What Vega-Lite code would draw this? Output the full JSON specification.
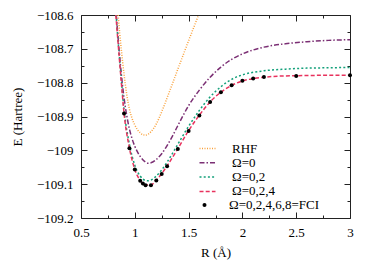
{
  "$schema": "https://vega.github.io/schema/vega-lite/v6.json",
  "width": 269,
  "height": 203,
  "autosize": {"type": "none"},
  "padding": {"left": 81, "top": 15, "right": 24, "bottom": 43},
  "background": "white",
  "config": {
    "font": "Liberation Serif",
    "view": {"stroke": "#222", "strokeWidth": 1},
    "axis": {
      "labelFont": "Liberation Serif", "labelFontSize": 13, "labelColor": "#000",
      "titleFont": "Liberation Serif", "titleFontSize": 13, "titleFontWeight": "normal", "titleColor": "#000",
      "grid": false, "domain": false, "tickColor": "#222", "tickWidth": 1,
      "labelFlush": false, "labelOverlap": false
    },
    "legend": {
      "labelFont": "Liberation Serif", "labelFontSize": 13, "labelColor": "#000",
      "symbolStrokeWidth": 1.5
    }
  },
  "data": {"values": [
    {"series": "RHF", "R": 0.845, "E": -108.6},
    {"series": "RHF", "R": 0.86, "E": -108.655},
    {"series": "RHF", "R": 0.875, "E": -108.703},
    {"series": "RHF", "R": 0.9, "E": -108.775},
    {"series": "RHF", "R": 0.925, "E": -108.835},
    {"series": "RHF", "R": 0.95, "E": -108.878},
    {"series": "RHF", "R": 0.975, "E": -108.906},
    {"series": "RHF", "R": 1.0, "E": -108.925},
    {"series": "RHF", "R": 1.025, "E": -108.939},
    {"series": "RHF", "R": 1.05, "E": -108.948},
    {"series": "RHF", "R": 1.075, "E": -108.954},
    {"series": "RHF", "R": 1.1, "E": -108.955},
    {"series": "RHF", "R": 1.125, "E": -108.952},
    {"series": "RHF", "R": 1.15, "E": -108.945},
    {"series": "RHF", "R": 1.175, "E": -108.935},
    {"series": "RHF", "R": 1.2, "E": -108.922},
    {"series": "RHF", "R": 1.225, "E": -108.905},
    {"series": "RHF", "R": 1.25, "E": -108.886},
    {"series": "RHF", "R": 1.275, "E": -108.866},
    {"series": "RHF", "R": 1.3, "E": -108.845},
    {"series": "RHF", "R": 1.35, "E": -108.803},
    {"series": "RHF", "R": 1.4, "E": -108.76},
    {"series": "RHF", "R": 1.45, "E": -108.718},
    {"series": "RHF", "R": 1.5, "E": -108.676},
    {"series": "RHF", "R": 1.55, "E": -108.635},
    {"series": "RHF", "R": 1.59, "E": -108.602},

    {"series": "Ω=0", "R": 0.828, "E": -108.6},
    {"series": "Ω=0", "R": 0.85, "E": -108.688},
    {"series": "Ω=0", "R": 0.875, "E": -108.775},
    {"series": "Ω=0", "R": 0.9, "E": -108.845},
    {"series": "Ω=0", "R": 0.925, "E": -108.897},
    {"series": "Ω=0", "R": 0.95, "E": -108.937},
    {"series": "Ω=0", "R": 0.975, "E": -108.966},
    {"series": "Ω=0", "R": 1.0, "E": -108.988},
    {"series": "Ω=0", "R": 1.05, "E": -109.018},
    {"series": "Ω=0", "R": 1.1, "E": -109.035},
    {"series": "Ω=0", "R": 1.125, "E": -109.038},
    {"series": "Ω=0", "R": 1.15, "E": -109.037},
    {"series": "Ω=0", "R": 1.2, "E": -109.027},
    {"series": "Ω=0", "R": 1.25, "E": -109.01},
    {"series": "Ω=0", "R": 1.3, "E": -108.986},
    {"series": "Ω=0", "R": 1.35, "E": -108.958},
    {"series": "Ω=0", "R": 1.4, "E": -108.927},
    {"series": "Ω=0", "R": 1.5, "E": -108.868},
    {"series": "Ω=0", "R": 1.6, "E": -108.822},
    {"series": "Ω=0", "R": 1.7, "E": -108.784},
    {"series": "Ω=0", "R": 1.8, "E": -108.754},
    {"series": "Ω=0", "R": 1.9, "E": -108.731},
    {"series": "Ω=0", "R": 2.0, "E": -108.715},
    {"series": "Ω=0", "R": 2.2, "E": -108.695},
    {"series": "Ω=0", "R": 2.4, "E": -108.685},
    {"series": "Ω=0", "R": 2.6, "E": -108.679},
    {"series": "Ω=0", "R": 2.8, "E": -108.675},
    {"series": "Ω=0", "R": 3.0, "E": -108.673},

    {"series": "Ω=0,2", "R": 0.826, "E": -108.6},
    {"series": "Ω=0,2", "R": 0.85, "E": -108.698},
    {"series": "Ω=0,2", "R": 0.875, "E": -108.792},
    {"series": "Ω=0,2", "R": 0.9, "E": -108.88},
    {"series": "Ω=0,2", "R": 0.95, "E": -108.982},
    {"series": "Ω=0,2", "R": 1.0, "E": -109.044},
    {"series": "Ω=0,2", "R": 1.05, "E": -109.076},
    {"series": "Ω=0,2", "R": 1.075, "E": -109.085},
    {"series": "Ω=0,2", "R": 1.1, "E": -109.089},
    {"series": "Ω=0,2", "R": 1.125, "E": -109.09},
    {"series": "Ω=0,2", "R": 1.15, "E": -109.088},
    {"series": "Ω=0,2", "R": 1.2, "E": -109.076},
    {"series": "Ω=0,2", "R": 1.25, "E": -109.058},
    {"series": "Ω=0,2", "R": 1.3, "E": -109.035},
    {"series": "Ω=0,2", "R": 1.4, "E": -108.982},
    {"series": "Ω=0,2", "R": 1.5, "E": -108.929},
    {"series": "Ω=0,2", "R": 1.6, "E": -108.882},
    {"series": "Ω=0,2", "R": 1.7, "E": -108.842},
    {"series": "Ω=0,2", "R": 1.8, "E": -108.812},
    {"series": "Ω=0,2", "R": 1.9, "E": -108.79},
    {"series": "Ω=0,2", "R": 2.0, "E": -108.777},
    {"series": "Ω=0,2", "R": 2.2, "E": -108.765},
    {"series": "Ω=0,2", "R": 2.4, "E": -108.76},
    {"series": "Ω=0,2", "R": 2.6, "E": -108.757},
    {"series": "Ω=0,2", "R": 2.8, "E": -108.756},
    {"series": "Ω=0,2", "R": 3.0, "E": -108.755},

    {"series": "Ω=0,2,4", "R": 0.824, "E": -108.6},
    {"series": "Ω=0,2,4", "R": 0.85, "E": -108.703},
    {"series": "Ω=0,2,4", "R": 0.875, "E": -108.8},
    {"series": "Ω=0,2,4", "R": 0.9, "E": -108.89},
    {"series": "Ω=0,2,4", "R": 0.95, "E": -108.993},
    {"series": "Ω=0,2,4", "R": 1.0, "E": -109.056},
    {"series": "Ω=0,2,4", "R": 1.05, "E": -109.089},
    {"series": "Ω=0,2,4", "R": 1.1, "E": -109.102},
    {"series": "Ω=0,2,4", "R": 1.15, "E": -109.102},
    {"series": "Ω=0,2,4", "R": 1.2, "E": -109.088},
    {"series": "Ω=0,2,4", "R": 1.25, "E": -109.069},
    {"series": "Ω=0,2,4", "R": 1.3, "E": -109.046},
    {"series": "Ω=0,2,4", "R": 1.4, "E": -108.995},
    {"series": "Ω=0,2,4", "R": 1.5, "E": -108.942},
    {"series": "Ω=0,2,4", "R": 1.6, "E": -108.896},
    {"series": "Ω=0,2,4", "R": 1.7, "E": -108.857},
    {"series": "Ω=0,2,4", "R": 1.8, "E": -108.828},
    {"series": "Ω=0,2,4", "R": 1.9, "E": -108.808},
    {"series": "Ω=0,2,4", "R": 2.0, "E": -108.795},
    {"series": "Ω=0,2,4", "R": 2.1, "E": -108.788},
    {"series": "Ω=0,2,4", "R": 2.2, "E": -108.784},
    {"series": "Ω=0,2,4", "R": 2.4, "E": -108.78},
    {"series": "Ω=0,2,4", "R": 2.6, "E": -108.779},
    {"series": "Ω=0,2,4", "R": 2.8, "E": -108.778},
    {"series": "Ω=0,2,4", "R": 3.0, "E": -108.778},

    {"series": "Ω=0,2,4,6,8=FCI", "R": 0.9, "E": -108.891},
    {"series": "Ω=0,2,4,6,8=FCI", "R": 0.95, "E": -108.994},
    {"series": "Ω=0,2,4,6,8=FCI", "R": 1.0, "E": -109.057},
    {"series": "Ω=0,2,4,6,8=FCI", "R": 1.05, "E": -109.09},
    {"series": "Ω=0,2,4,6,8=FCI", "R": 1.075, "E": -109.098},
    {"series": "Ω=0,2,4,6,8=FCI", "R": 1.1, "E": -109.103},
    {"series": "Ω=0,2,4,6,8=FCI", "R": 1.15, "E": -109.103},
    {"series": "Ω=0,2,4,6,8=FCI", "R": 1.2, "E": -109.089},
    {"series": "Ω=0,2,4,6,8=FCI", "R": 1.25, "E": -109.07},
    {"series": "Ω=0,2,4,6,8=FCI", "R": 1.3, "E": -109.047},
    {"series": "Ω=0,2,4,6,8=FCI", "R": 1.4, "E": -108.996},
    {"series": "Ω=0,2,4,6,8=FCI", "R": 1.5, "E": -108.943},
    {"series": "Ω=0,2,4,6,8=FCI", "R": 1.6, "E": -108.897},
    {"series": "Ω=0,2,4,6,8=FCI", "R": 1.7, "E": -108.857},
    {"series": "Ω=0,2,4,6,8=FCI", "R": 1.8, "E": -108.828},
    {"series": "Ω=0,2,4,6,8=FCI", "R": 1.9, "E": -108.808},
    {"series": "Ω=0,2,4,6,8=FCI", "R": 2.0, "E": -108.794},
    {"series": "Ω=0,2,4,6,8=FCI", "R": 2.1, "E": -108.788},
    {"series": "Ω=0,2,4,6,8=FCI", "R": 2.2, "E": -108.783},
    {"series": "Ω=0,2,4,6,8=FCI", "R": 2.5, "E": -108.78},
    {"series": "Ω=0,2,4,6,8=FCI", "R": 3.0, "E": -108.778}
  ]},
  "resolve": {
    "axis": {"x": "independent", "y": "independent"},
    "scale": {"color": "independent", "strokeDash": "independent"},
    "legend": {"color": "independent", "strokeDash": "independent"}
  },
  "layer": [
    {
      "transform": [{"filter": "datum.series !== 'Ω=0,2,4,6,8=FCI'"}],
      "mark": {"type": "line", "interpolate": "monotone", "strokeWidth": 1.5, "clip": true},
      "encoding": {
        "x": {
          "field": "R", "type": "quantitative",
          "scale": {"domain": [0.5, 3], "nice": false, "zero": false},
          "axis": {
            "orient": "bottom", "title": "R (Å)", "format": "~f",
            "values": [0.5, 0.75, 1, 1.25, 1.5, 1.75, 2, 2.25, 2.5, 2.75, 3],
            "labelExpr": "abs(datum.value*2 - round(datum.value*2)) > 0.01 ? '' : datum.label",
            "tickSize": {"condition": {"test": "abs(datum.value*2 - round(datum.value*2)) > 0.01", "value": -3}, "value": -6},
            "labelPadding": 14, "titlePadding": 4
          }
        },
        "y": {
          "field": "E", "type": "quantitative",
          "scale": {"domain": [-109.2, -108.6], "nice": false, "zero": false},
          "axis": {
            "orient": "left", "title": "E (Hartree)", "format": "~f",
            "values": [-109.2, -109.15, -109.1, -109.05, -109, -108.95, -108.9, -108.85, -108.8, -108.75, -108.7, -108.65, -108.6],
            "labelExpr": "abs(datum.value*10 - round(datum.value*10)) > 0.01 ? '' : datum.label",
            "tickSize": {"condition": {"test": "abs(datum.value*10 - round(datum.value*10)) > 0.01", "value": -3}, "value": -6},
            "labelPadding": 14, "titlePadding": 12
          }
        },
        "color": {
          "field": "series", "type": "nominal",
          "scale": {"domain": ["RHF", "Ω=0", "Ω=0,2", "Ω=0,2,4"], "range": ["#f9a23c", "#7b2f74", "#13a07a", "#e8325d"]},
          "legend": {
            "title": null, "orient": "none", "legendX": 120, "legendY": 127, "padding": 0, "rowPadding": 0.3, "labelOffset": 18,
            "symbolType": "M-2,0H2", "symbolSize": 64
          }
        },
        "strokeDash": {
          "field": "series", "type": "nominal",
          "scale": {"domain": ["RHF", "Ω=0", "Ω=0,2", "Ω=0,2,4"], "range": [[1, 1.5], [5, 2, 1.5, 2], [2, 2.2], [4, 2.2]]},
          "legend": {
            "title": null, "orient": "none", "legendX": 120, "legendY": 127, "padding": 0, "rowPadding": 0.3, "labelOffset": 18,
            "symbolType": "M-2,0H2", "symbolSize": 64
          }
        }
      }
    },
    {
      "transform": [{"filter": "datum.series === 'Ω=0,2,4,6,8=FCI'"}],
      "mark": {"type": "point", "filled": true, "size": 16, "opacity": 1},
      "encoding": {
        "x": {
          "field": "R", "type": "quantitative",
          "scale": {"domain": [0.5, 3], "nice": false, "zero": false},
          "axis": {
            "orient": "top", "title": null, "labels": false,
            "values": [0.5, 0.75, 1, 1.25, 1.5, 1.75, 2, 2.25, 2.5, 2.75, 3],
            "tickSize": {"condition": {"test": "abs(datum.value*2 - round(datum.value*2)) > 0.01", "value": -3}, "value": -6}
          }
        },
        "y": {
          "field": "E", "type": "quantitative",
          "scale": {"domain": [-109.2, -108.6], "nice": false, "zero": false},
          "axis": {
            "orient": "right", "title": null, "labels": false,
            "values": [-109.2, -109.15, -109.1, -109.05, -109, -108.95, -108.9, -108.85, -108.8, -108.75, -108.7, -108.65, -108.6],
            "tickSize": {"condition": {"test": "abs(datum.value*10 - round(datum.value*10)) > 0.01", "value": -3}, "value": -6}
          }
        },
        "color": {
          "field": "series", "type": "nominal",
          "scale": {"domain": ["Ω=0,2,4,6,8=FCI"], "range": ["#000000"]},
          "legend": {
            "title": null, "orient": "none", "legendX": 120, "legendY": 183.5, "padding": 0, "rowPadding": 0, "labelOffset": 18,
            "symbolType": "circle", "symbolSize": 16, "symbolOffset": -3
          }
        }
      }
    }
  ]
}
